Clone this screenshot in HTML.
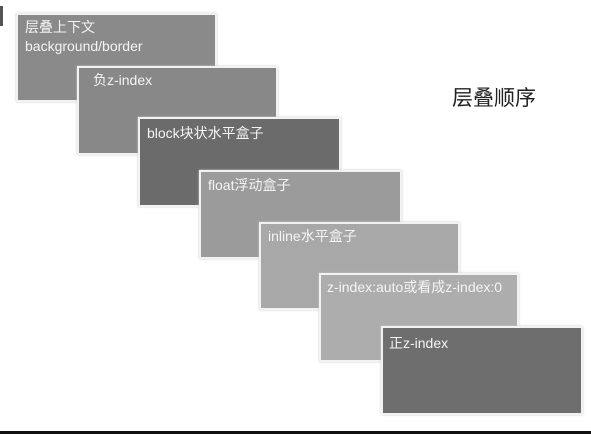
<!DOCTYPE html>
<html><head><meta charset="utf-8"><style>
body{margin:0;width:591px;height:434px;background:#fff;position:relative;overflow:hidden;font-family:"Liberation Sans","Noto Sans CJK SC",sans-serif}
.b{position:absolute;box-sizing:border-box;border:2px solid #f2f2f2;box-shadow:0 0 2px #ccc;color:#f4f4f4;font-size:14px;line-height:19px;padding:3px 7px}
</style></head><body>
<div style="position:absolute;left:0;top:6px;width:3px;height:20px;background:#555"></div>
<div class="b" style="left:16px;top:13px;width:201px;height:89px;background:#8a8a8a">层叠上下文<br>background/border</div>
<div class="b" style="left:77px;top:66px;width:201px;height:89px;background:#888;padding-left:14px">负z-index</div>
<div class="b" style="left:138px;top:117px;width:203px;height:90px;background:#6b6b6b;padding-top:5px">block块状水平盒子</div>
<div class="b" style="left:199px;top:170px;width:203px;height:89px;background:#9b9b9b;padding-top:4px">float浮动盒子</div>
<div class="b" style="left:259px;top:222px;width:201px;height:88px;background:#a8a8a8">inline水平盒子</div>
<div class="b" style="left:319px;top:273px;width:200px;height:89px;background:#adadad;padding-left:6px">z-index:auto或看成z-index:0</div>
<div class="b" style="left:381px;top:326px;width:202px;height:89px;background:#6e6e6e;padding-left:6px;padding-top:6px">正z-index</div>
<div style="position:absolute;left:452px;top:82px;font-size:21px;color:#222">层叠顺序</div>
<div style="position:absolute;left:0;top:431px;width:591px;height:3px;background:#111"></div>
</body></html>
